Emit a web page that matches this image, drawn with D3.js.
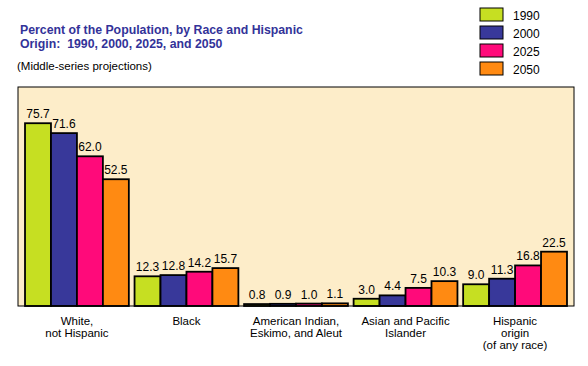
<!DOCTYPE html>
<html>
<head>
<meta charset="utf-8">
<script src="https://cdn.jsdelivr.net/npm/d3@7"></script>
<style>
  body { margin: 0; background: #fff; }
  svg { display: block; font-family: "Liberation Sans", Arial, sans-serif; }
</style>
</head>
<body>
<div id="chart"></div>
<script>
// data
const categories = [
  ["White,", "not Hispanic"],
  ["Black"],
  ["American Indian,", "Eskimo, and Aleut"],
  ["Asian and Pacific", "Islander"],
  ["Hispanic", "origin", "(of any race)"]
]
const years = ["1990", "2000", "2025", "2050"]
const v1990 = [75.7, 12.3, 0.8, 3.0, 9.0]
const v2000 = [71.6, 12.8, 0.9, 4.4, 11.3]
const v2025 = [62.0, 14.2, 1.0, 7.5, 16.8]
const v2050 = [52.5, 15.7, 1.1, 10.3, 22.5]
const series = [v1990, v2000, v2025, v2050]
const colors = ["#c6df22", "#38389a", "#ff0a7a", "#ff8a12"]

const W = 588, H = 366
const plot = {left: 18, top: 87, right: 574, bottom: 306}

var svg = d3.select("#chart").append("svg")
    .attr("width", W)
    .attr("height", H)

// title
var title = svg.append("text")
    .attr("x", 20)
    .attr("y", 34)
    .attr("fill", "#333399")
    .attr("font-weight", "bold")
    .attr("font-size", 12.3)
title.append("tspan").attr("x", 20).text("Percent of the Population, by Race and Hispanic")
title.append("tspan").attr("x", 20).attr("dy", 14).text("Origin:  1990, 2000, 2025, and 2050")
    .attr("xml:space", "preserve")

svg.append("text")
    .attr("x", 17)
    .attr("y", 70)
    .attr("font-size", 11.5)
    .text("(Middle-series projections)")

// legend
var legend = svg.selectAll(".legend")
    .data(years)
    .enter().append("g")
    .attr("class", "legend")
    .attr("transform", function(d, i) { return "translate(480," + (8 + i * 18) + ")" })
legend.append("rect")
    .attr("width", 23)
    .attr("height", 13)
    .attr("fill", function(d, i) { return colors[i] })
    .attr("stroke", "#000")
    .attr("stroke-width", 1)
legend.append("text")
    .attr("x", 33)
    .attr("y", 11.5)
    .attr("font-size", 12)
    .text(function(d) { return d })

// plot background
svg.append("rect")
    .attr("x", plot.left)
    .attr("y", plot.top)
    .attr("width", plot.right - plot.left)
    .attr("height", plot.bottom - plot.top)
    .attr("fill", "#fdedc9")

var x0 = d3.scaleBand()
    .domain(d3.range(categories.length))
    .range([plot.left, plot.right])
    .paddingInner(0.052)
    .paddingOuter(0.064)

var x1 = d3.scaleBand()
    .domain(d3.range(years.length))
    .range([0, x0.bandwidth()])

var y = d3.scaleLinear()
    .domain([0, 90.7])
    .range([plot.bottom, plot.top])

var groups = svg.selectAll(".group")
    .data(categories)
    .enter().append("g")
    .attr("class", "group")
    .attr("transform", function(d, i) { return "translate(" + x0(i) + ",0)" })

groups.each(function(c, ci) {
    var g = d3.select(this)
    var vals = series.map(function(s) { return s[ci] })
    g.selectAll("rect")
        .data(vals)
        .enter().append("rect")
        .attr("x", function(d, i) { return x1(i) })
        .attr("y", function(d) { return y(d) })
        .attr("width", x1.bandwidth())
        .attr("height", function(d) { return plot.bottom - y(d) })
        .attr("fill", function(d, i) { return colors[i] })
        .attr("stroke", "#000")
        .attr("stroke-width", 1.8)
    g.selectAll(".val")
        .data(vals)
        .enter().append("text")
        .attr("class", "val")
        .attr("x", function(d, i) { return x1(i) + x1.bandwidth() / 2 })
        .attr("y", function(d) { return y(d) - 5 })
        .attr("text-anchor", "middle")
        .attr("font-size", 12)
        .text(function(d) { return d.toFixed(1) })
})

// frame
svg.append("rect")
    .attr("x", plot.left)
    .attr("y", plot.top)
    .attr("width", plot.right - plot.left)
    .attr("height", plot.bottom - plot.top)
    .attr("fill", "none")
    .attr("stroke", "#000")
    .attr("stroke-width", 1)

// category labels
var labels = svg.selectAll(".cat")
    .data(categories)
    .enter().append("text")
    .attr("class", "cat")
    .attr("text-anchor", "middle")
    .attr("font-size", 11.5)
    .attr("y", 325)
labels.selectAll("tspan")
    .data(function(d, i) { return d.map(function(t) { return {t: t, i: i} }) })
    .enter().append("tspan")
    .attr("x", function(d) { return x0(d.i) + x0.bandwidth() / 2 })
    .attr("dy", function(d, j) { return j == 0 ? 0 : 12 })
    .text(function(d) { return d.t })
</script>
</body>
</html>
